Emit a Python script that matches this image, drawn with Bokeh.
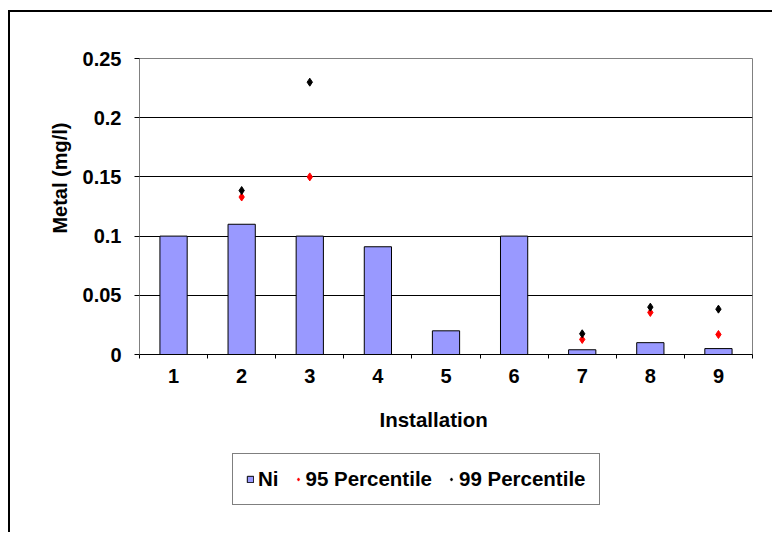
import math
from bokeh.plotting import figure
from bokeh.layouts import column
from bokeh.models import (ColumnDataSource, FixedTicker, CustomJSTickFormatter, Legend,
                          LegendItem, Title)
from bokeh.embed import file_html
from bokeh.resources import INLINE

installations = ["1", "2", "3", "4", "5", "6", "7", "8", "9"]
ni = [0.1, 0.11, 0.1, 0.091, 0.02, 0.1, 0.004, 0.01, 0.005]
p95 = [math.nan, 0.133, 0.15, math.nan, math.nan, math.nan, 0.0127, 0.0355, 0.0169]
p99 = [math.nan, 0.1385, 0.230, math.nan, math.nan, math.nan, 0.0175, 0.040, 0.0383]
y_ticks = [0, 0.05, 0.1, 0.15, 0.2, 0.25]
series_names = ["Ni", "95 Percentile", "99 Percentile"]

xs = list(range(1, len(installations) + 1))
src = ColumnDataSource(dict(x=xs, ni=ni, p95=p95, p99=p99))

FONT = "Liberation Sans"
BAR_FILL = "#9999FF"
C95 = "#FF0000"
C99 = "black"


def draw_series(fig):
    b = fig.vbar(x="x", top="ni", bottom=0, width=0.4, source=src,
                 fill_color=BAR_FILL, line_color="black", line_width=1)
    a = fig.scatter(x="x", y="p95", source=src, marker="diamond", size=8,
                    fill_color=C95, line_color=C95)
    c = fig.scatter(x="x", y="p99", source=src, marker="diamond", size=8,
                    fill_color=C99, line_color=C99)
    return b, a, c


p = figure(width=762, height=439, output_backend="svg", toolbar_location=None,
           x_range=(0.5, 9.5), y_range=(0, 0.25),
           min_border_left=129, min_border_right=20, min_border_top=46,
           min_border_bottom=97)
p.outline_line_color = "#808080"
p.outline_line_width = 1
p.background_fill_color = "white"
p.border_fill_color = "white"

p.xgrid.grid_line_color = None
p.ygrid.grid_line_color = "black"
p.ygrid.grid_line_width = 1

draw_series(p)

# x axis
p.xaxis.ticker = FixedTicker(ticks=xs, minor_ticks=[i + 0.5 for i in range(0, 10)])
p.xaxis.major_label_overrides = {x: lab for x, lab in zip(xs, installations)}
p.xaxis.major_tick_line_color = None
p.xaxis.minor_tick_line_color = "black"
p.xaxis.minor_tick_out = 4
p.xaxis.minor_tick_in = 0
p.xaxis.axis_line_color = "black"
p.xaxis.major_label_standoff = 8

# y axis
p.yaxis.ticker = FixedTicker(ticks=y_ticks, minor_ticks=[])
p.yaxis.formatter = CustomJSTickFormatter(code="return String(Math.round(tick*100)/100);")
p.yaxis.major_tick_out = 5
p.yaxis.major_tick_in = 0
p.yaxis.major_tick_line_color = "black"
p.yaxis.axis_line_color = "#808080"
p.yaxis.major_label_standoff = 13

for ax in (p.xaxis[0], p.yaxis[0]):
    ax.major_label_text_font = FONT
    ax.major_label_text_font_style = "bold"
    ax.major_label_text_font_size = "20px"
    ax.major_label_text_color = "black"

# axis titles
xt = Title(text="Installation", text_font=FONT, text_font_style="bold",
           text_font_size="20.5px", text_color="black", align="left", offset=240,
           standoff=41)
p.add_layout(xt, "below")
yt = Title(text="Metal (mg/l)", text_font=FONT, text_font_style="bold",
           text_font_size="20px", text_color="black", align="right", offset=64,
           standoff=17)
p.add_layout(yt, "left")

# legend panel (second figure stacked below; its series lie outside its view)
p2 = figure(width=762, height=81, output_backend="svg", toolbar_location=None,
            x_range=(0.5, 9.5), y_range=(10, 11), x_axis_location=None,
            y_axis_location=None, min_border=0)
p2.outline_line_color = None
p2.xgrid.grid_line_color = None
p2.ygrid.grid_line_color = None
p2.background_fill_color = "white"
p2.border_fill_color = "white"
lb, l95, l99 = draw_series(p2)

legend = Legend(items=[LegendItem(label=series_names[0], renderers=[lb]),
                       LegendItem(label=series_names[1], renderers=[l95]),
                       LegendItem(label=series_names[2], renderers=[l99])],
                location=(93, 27), orientation="horizontal",
                glyph_width=8, glyph_height=8, label_standoff=4, spacing=15,
                padding=13, margin=0,
                label_text_font=FONT, label_text_font_style="bold",
                label_text_font_size="20.5px", label_text_color="black",
                border_line_color="black", border_line_width=1,
                background_fill_color="white", background_fill_alpha=1)
p2.add_layout(legend)

layout = column(p, p2, spacing=0)
layout.styles = {"border-left": "2px solid black", "border-top": "2px solid black",
                 "margin-left": "8px", "margin-top": "10px"}

open("out.html", "w").write(file_html(layout, INLINE))
